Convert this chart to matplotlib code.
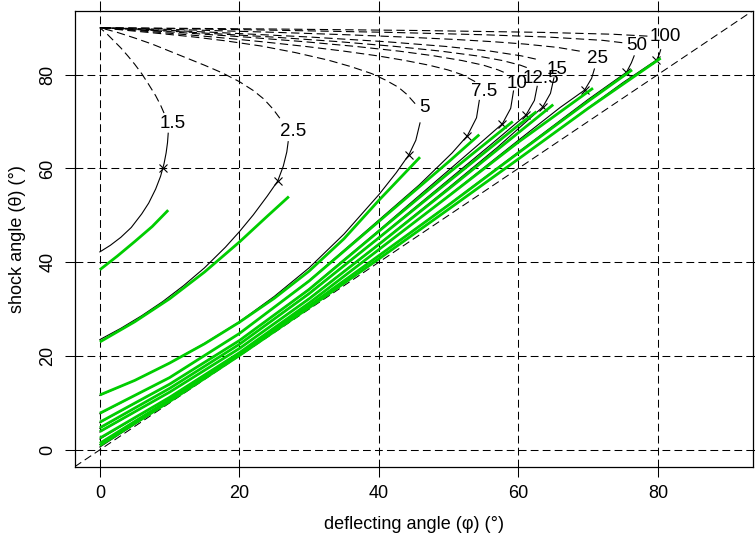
import matplotlib
matplotlib.use("Agg")
import matplotlib.pyplot as plt

plt.rcParams['font.family'] = ['Liberation Sans', 'DejaVu Sans']

# Mach-number labels
labels = ["1.5", "2.5", "5", "7.5", "10", "12.5", "15", "25", "50", "100"]

# weak-shock branch (solid black)
weak_x = [
    [0, 1.5, 3, 4.5, 6, 7, 8, 8.7, 9.2, 9.5, 9.7, 9.8],
    [0, 3, 6, 9, 12, 15, 18, 20, 22, 24, 25.5, 26.3, 26.8, 27.0],
    [0, 5, 10, 15, 20, 25, 30, 35, 40, 42.5, 44.3, 45.3, 45.9],
    [0, 10, 20, 30, 40, 45.8, 50.5, 52.7, 54.0, 54.4],
    [0, 10, 20, 30, 40, 50, 55, 57.7, 58.9, 59.3],
    [0, 10, 20, 30, 40, 50, 56, 61.1, 62.3, 62.7],
    [0, 10, 20, 30, 40, 50, 57, 61, 63.5, 64.6, 65.1],
    [0, 10, 20, 30, 40, 50, 60, 66, 69.5, 70.5, 70.9],
    [0, 10, 20, 30, 40, 50, 60, 70, 75.5, 76.2, 76.6],
    [0, 10, 20, 30, 40, 50, 60, 70, 75, 79.8, 80.2, 80.4],
]
weak_y = [
    [42.2, 43.6, 45.3, 47.4, 50.3, 52.6, 55.6, 58.3, 61.0, 63.3, 65.5, 67.5],
    [23.5, 25.9, 28.6, 31.6, 35.0, 38.8, 43.2, 46.5, 50.1, 54.1, 57.3, 60.5, 63.5, 65.7],
    [11.6, 14.8, 18.5, 22.7, 27.3, 32.7, 38.8, 46.0, 54.4, 59.1, 62.9, 66.0, 69.7],
    [7.7, 15.4, 24.8, 36.1, 49.0, 56.5, 63.3, 67.0, 70.8, 74.5],
    [5.8, 14.0, 23.3, 34.3, 46.8, 59.6, 66.0, 69.5, 72.8, 76.5],
    [4.6, 13.1, 22.5, 33.4, 45.3, 57.6, 65.0, 71.4, 74.5, 77.5],
    [3.8, 12.3, 21.6, 32.3, 43.9, 55.9, 64.5, 69.8, 73.1, 76.0, 79.3],
    [2.3, 11.2, 20.7, 31.3, 42.7, 54.2, 66.0, 73.0, 76.7, 79.2, 81.2],
    [1.15, 10.6, 20.4, 30.7, 41.4, 52.3, 63.5, 74.7, 80.5, 82.5, 84.0],
    [0.6, 10.3, 20.1, 30.3, 40.7, 51.3, 62.0, 72.9, 78.3, 83.1, 84.3, 85.3],
]

# strong-shock branch (dashed black)
strong_x = [
    [9.2, 8.7, 8.0, 7.0, 6.0, 5.0, 4.0, 3.0, 2.0, 1.0, 0],
    [25.8, 24.8, 23.5, 22.0, 20.0, 17.5, 15.0, 12.5, 10.0, 7.5, 5.0, 2.5, 0],
    [45.2, 44.0, 42.8, 41.0, 39.0, 36.0, 32.7, 28.0, 23.1, 18.0, 13.6, 9.0, 4.05, 0],
    [53.8, 51.9, 49.9, 47.2, 43.8, 39.8, 35.0, 29.5, 23.3, 16.4, 8.6, 0],
    [57.9, 57.1, 55.0, 51.9, 47.9, 42.9, 36.7, 29.4, 20.9, 11.1, 0],
    [61.2, 60.3, 57.7, 54.0, 48.9, 42.4, 34.4, 24.8, 13.3, 0],
    [62.5, 60.4, 56.0, 49.6, 41.1, 30.2, 16.5, 8.7, 0],
    [68.8, 65.6, 61.0, 56.5, 50.8, 43.7, 35.3, 25.3, 13.5, 0],
    [74.9, 72.1, 64.3, 54.9, 41.6, 23.6, 12.5, 0],
    [78.5, 73.6, 63.4, 45.7, 26.1, 0],
]
strong_y = [
    [71.8, 73.5, 75.5, 77.9, 80.2, 82.2, 84.0, 85.7, 87.2, 88.7, 90],
    [70.7, 72.7, 74.8, 76.6, 78.5, 80.4, 82.0, 83.5, 85.0, 86.5, 87.8, 89.0, 90],
    [73.8, 75.8, 77.3, 78.8, 80.2, 81.7, 83.1, 84.7, 86.1, 87.2, 88.0, 88.7, 89.4, 90],
    [78.5, 80, 81, 82, 83, 84, 85, 86, 87, 88, 89, 90],
    [80.5, 81, 82, 83, 84, 85, 86, 87, 88, 89, 90],
    [81.5, 82, 83, 84, 85, 86, 87, 88, 89, 90],
    [83.3, 84, 85, 86, 87, 88, 89, 89.5, 90],
    [85.0, 85.8, 86.5, 87, 87.5, 88, 88.5, 89, 89.5, 90],
    [86.8, 87.3, 88, 88.5, 89, 89.5, 89.75, 90],
    [88.2, 88.6, 89, 89.4, 89.7, 90],
]

# sonic points (x marks)
sonic_x = [9.06, 25.5, 44.3, 52.7, 57.7, 61.1, 63.5, 69.5, 75.5, 79.8]
sonic_y = [60.1, 57.3, 62.9, 67.0, 69.5, 71.4, 73.1, 76.7, 80.5, 83.1]

# label positions
label_x = [10.4, 27.65, 46.6, 55.1, 59.8, 63.2, 65.6, 71.3, 77.0, 81.1]
label_y = [69.5, 67.9, 72.9, 76.4, 78.2, 79.2, 81.0, 83.5, 86.3, 88.1]

# green approximations
green_x = [
    [0, 2.5, 5, 7.5, 9.8],
    [0, 5, 10, 15, 20, 24, 27.1],
    [0, 5, 10, 15, 20, 25, 30, 35, 40, 45.9],
    [0, 10, 20, 30, 40, 50, 54.4],
    [0, 10, 20, 30, 40, 50, 59.2],
    [0, 10, 20, 30, 40, 50, 60, 62.6],
    [0, 10, 20, 30, 40, 50, 60, 65.0],
    [0, 10, 20, 30, 40, 50, 60, 70.7],
    [0, 10, 20, 30, 40, 50, 60, 70, 76.3],
    [0, 10, 20, 30, 40, 50, 60, 70, 80.4],
]
green_y = [
    [38.4, 41.3, 44.4, 47.6, 51.1],
    [23.0, 27.3, 32.2, 37.9, 44.3, 49.8, 54.0],
    [11.7, 14.8, 18.5, 22.6, 27.2, 32.3, 38.1, 45.0, 53.2, 62.4],
    [7.8, 15.4, 24.8, 36.0, 48.7, 61.4, 67.2],
    [5.9, 14.0, 23.3, 34.2, 46.6, 59.0, 70.0],
    [4.7, 13.1, 22.5, 33.3, 45.2, 57.2, 69.2, 72.1],
    [3.9, 12.3, 21.6, 32.2, 43.8, 55.6, 67.6, 73.6],
    [2.5, 11.2, 20.7, 31.3, 42.7, 54.1, 65.6, 77.1],
    [1.4, 10.7, 20.4, 30.7, 41.4, 52.2, 63.3, 74.3, 81.0],
    [0.9, 10.3, 20.1, 30.3, 40.7, 51.3, 62.0, 72.8, 83.5],
]

grid_vals = [0, 20, 40, 60, 80]

fig = plt.figure(figsize=(7.55, 5.40), dpi=100)
ax = fig.add_axes([0.099, 0.1357, 0.898, 0.8443])
ax.set_xlim(-3.6, 93.6)
ax.set_ylim(-3.6, 93.6)

dash = (0, (7.5, 4))
for g in grid_vals:
    ax.axhline(g, color='k', lw=0.75, ls=dash, zorder=1)
    ax.axvline(g, color='k', lw=0.75, ls=dash, zorder=1)
ax.axline((0, 0), (1, 1), color='k', lw=0.75, ls=dash, zorder=1)

for i in range(len(labels)):
    ax.plot(weak_x[i], weak_y[i], color='k', lw=0.8, zorder=2)
    ax.plot(strong_x[i], strong_y[i], color='k', lw=0.8, ls=dash, zorder=2)
    ax.plot(sonic_x[i], sonic_y[i], marker='x', color='k', ms=6, mew=0.8, zorder=3)
    ax.text(label_x[i], label_y[i], labels[i], fontsize=13.5, ha='center', va='center', zorder=4)
for i in range(len(labels)):
    ax.plot(green_x[i], green_y[i], color='#00CD00', lw=2.0, zorder=3, solid_capstyle='butt')

ax.set_xticks(grid_vals)
ax.set_yticks(grid_vals)
ax.tick_params(direction='out', length=7.2, width=0.75, labelsize=13, top=True, right=True, pad=6)
ax.tick_params(axis='y', labelrotation=90)
for lab in ax.get_yticklabels():
    lab.set_va('center')
for s in ax.spines.values():
    s.set_linewidth(0.9)

ax.set_xlabel("deflecting angle (\u03c6) (\u00b0)", fontsize=13, labelpad=10)
ax.set_ylabel("shock angle (\u03b8) (\u00b0)", fontsize=13, labelpad=10)

fig.savefig("out.png", dpi=100)
